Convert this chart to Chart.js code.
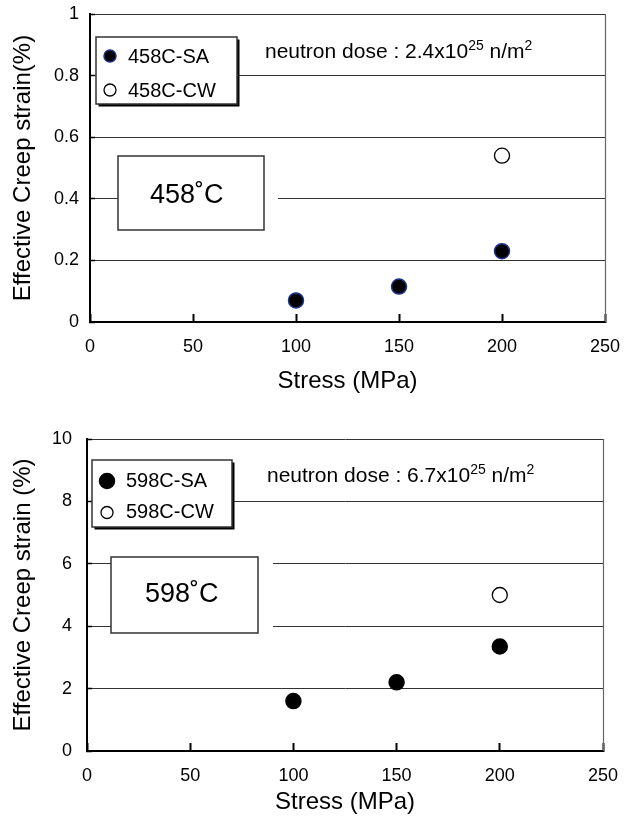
<!DOCTYPE html>
<html>
<head>
<meta charset="utf-8">
<title>Effective creep strain vs stress</title>
<script src="https://cdn.jsdelivr.net/npm/chart.js@4.4.1/dist/chart.umd.min.js"></script>
<style>
  html, body { margin: 0; padding: 0; background: #fff; overflow: hidden; }
  .panel { position: relative; width: 624px; height: 410px; }
  canvas { display: block; }
</style>
</head>
<body>
<div class="panel"><canvas id="chart458"></canvas></div>
<div class="panel"><canvas id="chart598"></canvas></div>
<script>
// values
var stressSA = [100, 150, 200];
var stressCW = [200];
var strain458SA = [0.07, 0.115, 0.23];
var strain458CW = [0.54];
var strain598SA = [1.6, 2.2, 3.35];
var strain598CW = [5.0];
var xTicks = [0, 50, 100, 150, 200, 250];
var yTicks458 = [0, 0.2, 0.4, 0.6, 0.8, 1];
var yTicks598 = [0, 2, 4, 6, 8, 10];
var labels458 = ['458C-SA', '458C-CW'];
var labels598 = ['598C-SA', '598C-CW'];

var FONT = "'Liberation Sans', Arial, sans-serif";
Chart.defaults.font.family = FONT;
Chart.defaults.color = '#000';

function points(xs, ys) {
    return xs.map(function(x, i) { return { x: x, y: ys[i] }; });
}

function useTicks(list) {
    return function(scale) {
        scale.ticks = list.map(function(v) { return { value: v }; });
    };
}

// fixed axis size, and no extra room for labels (layout padding handles it)
function fixSize(prop, size) {
    return function(scale) {
        scale[prop] = size;
        scale.paddingLeft = scale.paddingRight = 0;
        scale.paddingTop = scale.paddingBottom = 0;
    };
}

// legend box, temperature box and dose text, drawn over the grid
var annotations = {
    id: 'annotations',
    beforeDatasetsDraw: function(chart, args, opts) {
        var ctx = chart.ctx;
        var area = chart.chartArea;
        var L = opts.legend, T = opts.temp, D = opts.dose;
        ctx.save();

        // right frame line
        ctx.strokeStyle = '#666';
        ctx.lineWidth = 1.2;
        ctx.beginPath();
        ctx.moveTo(Math.round(area.right) + 0.5, area.top);
        ctx.lineTo(Math.round(area.right) + 0.5, area.bottom);
        ctx.stroke();

        // legend
        ctx.fillStyle = '#000';
        ctx.fillRect(L.x + 2.5, L.y + 2.5, L.w, L.h);
        ctx.fillStyle = '#fff';
        ctx.fillRect(L.x, L.y, L.w, L.h);
        ctx.strokeStyle = '#333';
        ctx.lineWidth = 1.5;
        ctx.strokeRect(L.x, L.y, L.w, L.h);
        ctx.font = '20px ' + FONT;
        ctx.textBaseline = 'alphabetic';
        ctx.textAlign = 'left';
        chart.data.datasets.forEach(function(ds, i) {
            ctx.beginPath();
            ctx.arc(L.mx, L.rows[i], L.r[i], 0, Math.PI * 2);
            ctx.fillStyle = ds.backgroundColor;
            ctx.fill();
            ctx.lineWidth = ds.borderWidth;
            ctx.strokeStyle = ds.borderColor;
            ctx.stroke();
            ctx.fillStyle = '#000';
            ctx.fillText(ds.label, L.tx, L.base[i]);
        });

        // temperature box (white margin hides the grid a little to the right)
        ctx.fillStyle = '#fff';
        ctx.fillRect(T.x, T.y, T.w + T.gap, T.h);
        ctx.strokeStyle = '#333';
        ctx.lineWidth = 1.5;
        ctx.strokeRect(T.x, T.y, T.w, T.h);
        ctx.fillStyle = '#000';
        ctx.font = '27px ' + FONT;
        ctx.fillText(T.text, T.tx, T.ty);

        // neutron dose with superscripts
        var x = D.x;
        var parts = [
            ['neutron dose : ' + D.value + 'x10', 21, 0],
            ['25', 14, -8],
            [' n/m', 21, 0],
            ['2', 14, -8]
        ];
        parts.forEach(function(p) {
            ctx.font = p[1] + 'px ' + FONT;
            ctx.fillText(p[0], x, D.y + p[2]);
            x += ctx.measureText(p[0]).width;
        });
        ctx.restore();
    }
};

function makeChart(id, cfg) {
    return new Chart(document.getElementById(id), {
        type: 'scatter',
        data: {
            datasets: [{
                label: cfg.labels[0],
                data: points(stressSA, cfg.sa),
                backgroundColor: '#000',
                borderColor: cfg.saBorder,
                borderWidth: 1.5,
                pointRadius: 7.5,
                pointHoverRadius: 7.5
            }, {
                label: cfg.labels[1],
                data: points(stressCW, cfg.cw),
                backgroundColor: '#fff',
                borderColor: '#000',
                borderWidth: 1.3,
                pointRadius: 7.5,
                pointHoverRadius: 7.5
            }]
        },
        options: {
            responsive: true,
            maintainAspectRatio: false,
            animation: false,
            layout: { padding: cfg.padding },
            plugins: {
                legend: { display: false },
                tooltip: { enabled: false },
                annotations: cfg.notes
            },
            scales: {
                x: {
                    type: 'linear',
                    min: 0,
                    max: 250,
                    afterBuildTicks: useTicks(xTicks),
                    afterFit: fixSize('height', cfg.xHeight),
                    ticks: {
                        padding: 22,
                        font: { size: 18 },
                        callback: function(v) { return String(v); }
                    },
                    grid: {
                        drawOnChartArea: false,
                        tickColor: '#000',
                        tickLength: -8,
                        tickWidth: 2,
                        tickBorderDash: []
                    },
                    border: { color: '#000', width: 2 },
                    title: {
                        display: true,
                        text: 'Stress (MPa)',
                        font: { size: 24 },
                        padding: { top: 0, bottom: cfg.xTitlePad }
                    }
                },
                y: {
                    min: cfg.yTicks[0],
                    max: cfg.yTicks[cfg.yTicks.length - 1],
                    afterBuildTicks: useTicks(cfg.yTicks),
                    afterFit: fixSize('width', cfg.yWidth),
                    ticks: {
                        padding: cfg.yTickPad,
                        font: { size: 18 },
                        callback: function(v) { return String(v); }
                    },
                    grid: {
                        color: '#333',
                        lineWidth: 1,
                        borderDash: [1.5, 1.5],
                        tickColor: '#000',
                        tickLength: -5,
                        tickWidth: 1.5,
                        tickBorderDash: []
                    },
                    border: { color: '#000', width: 2 },
                    title: {
                        display: true,
                        text: cfg.yTitle,
                        font: { size: 24 },
                        padding: { top: 8.6, bottom: 0 }
                    }
                }
            }
        },
        plugins: [annotations]
    });
}

document.addEventListener('DOMContentLoaded', function() {
    makeChart('chart458', {
        labels: labels458,
        sa: strain458SA,
        cw: strain458CW,
        saBorder: '#1f3288',
        yTicks: yTicks458,
        yTitle: 'Effective Creep strain(%)',
        padding: { left: 0, top: 14, right: 19, bottom: 0 },
        xHeight: 88,
        yWidth: 90,
        yTickPad: 16,
        xTitlePad: 14,
        notes: {
            legend: { x: 96, y: 37, w: 141, h: 67, mx: 110, rows: [56, 90], r: [6, 6], tx: 128, base: [63.3, 96.7] },
            temp: { x: 118, y: 156, w: 146, h: 74, gap: 14, text: '458\u02DAC', tx: 150, ty: 203 },
            dose: { x: 265, y: 58, value: '2.4' }
        }
    });

    makeChart('chart598', {
        labels: labels598,
        sa: strain598SA,
        cw: strain598CW,
        saBorder: '#000',
        yTicks: yTicks598,
        yTitle: 'Effective Creep strain (%)',
        padding: { left: 0, top: 29, right: 21, bottom: 0 },
        xHeight: 69,
        yWidth: 87,
        yTickPad: 20,
        xTitlePad: 3.6,
        notes: {
            legend: { x: 92, y: 50, w: 140, h: 67, mx: 107, rows: [71, 102.5], r: [7.5, 6], tx: 126, base: [76.7, 108.3] },
            temp: { x: 111, y: 147, w: 147, h: 76, gap: 15, text: '598\u02DAC', tx: 145, ty: 192 },
            dose: { x: 267, y: 72, value: '6.7' }
        }
    });
});
</script>
</body>
</html>
